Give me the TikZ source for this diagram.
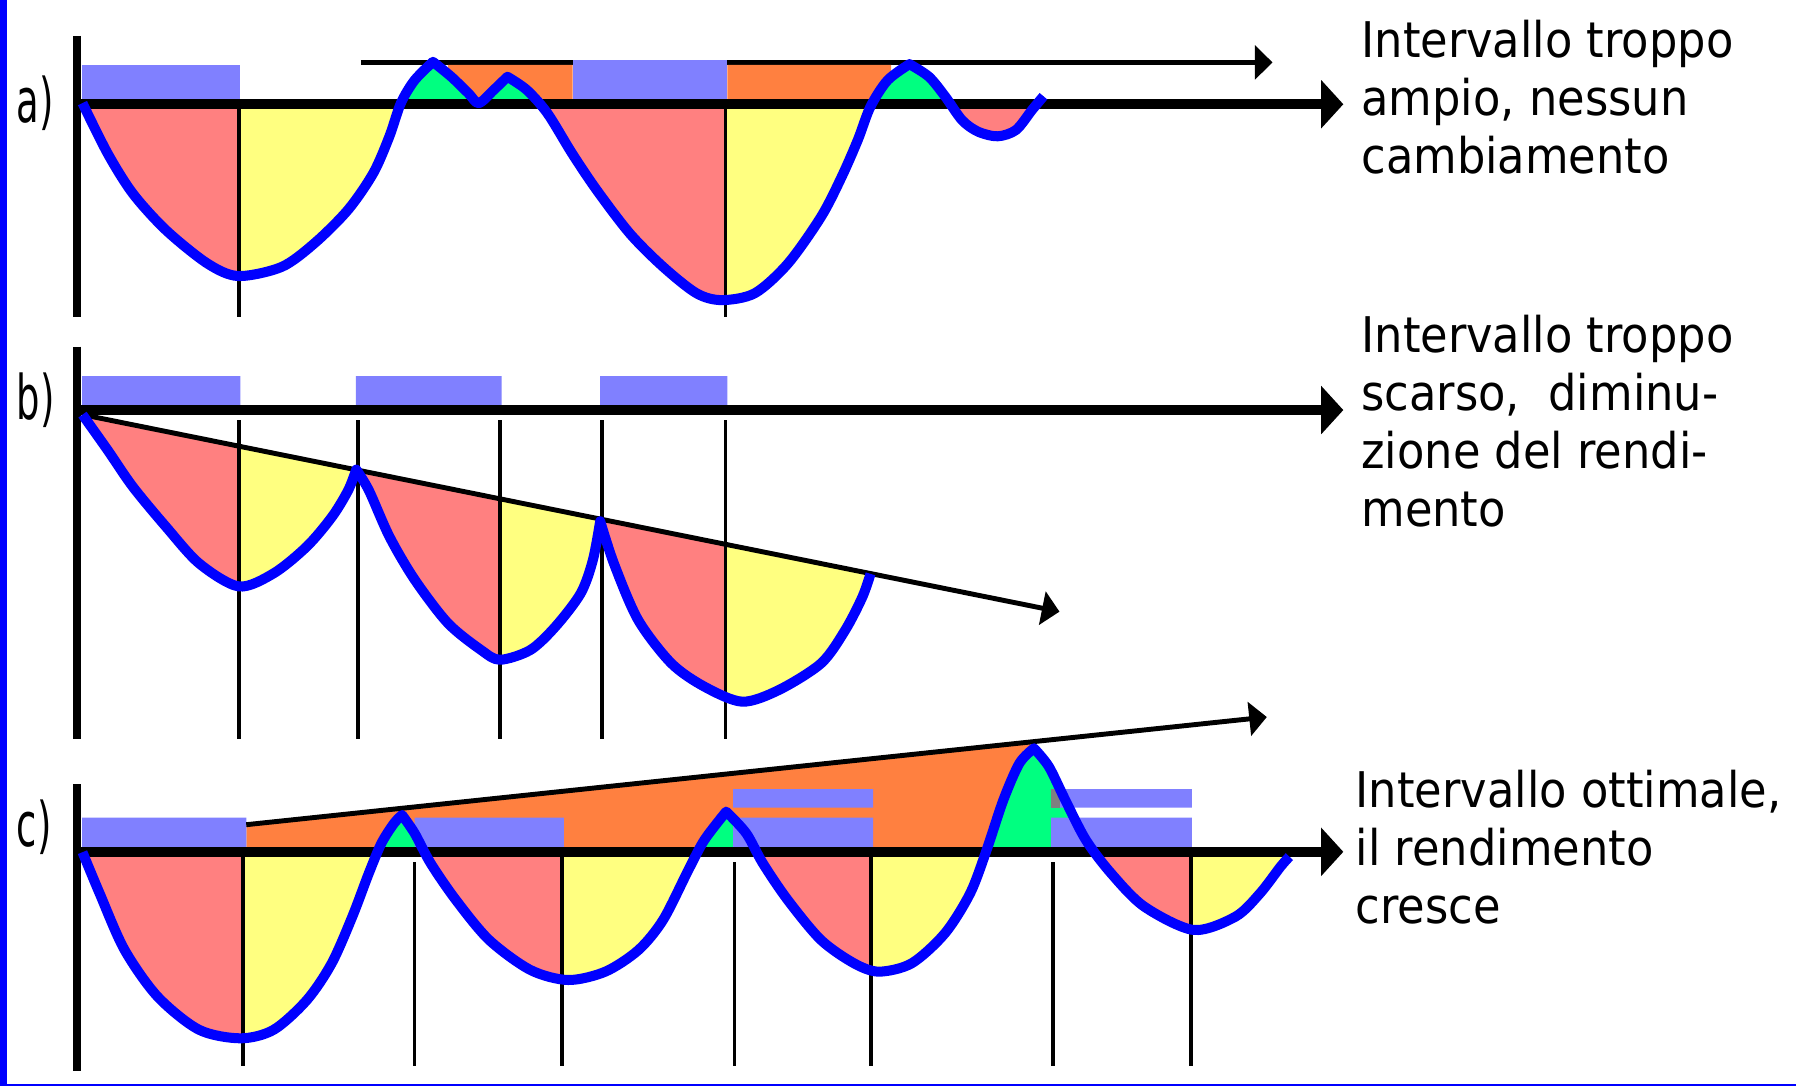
\documentclass[tikz,border=0pt]{standalone}
\usepackage{fontspec}
\setmainfont{DejaVu Sans}
\newfontfamily\notefont[FakeStretch=0.91]{DejaVu Sans}
\newfontfamily\tagfont[FakeStretch=0.6]{DejaVu Sans}
\usetikzlibrary{arrows.meta}

\definecolor{barblue}{RGB}{128,128,255}
\definecolor{lossred}{RGB}{255,128,128}
\definecolor{gainyellow}{RGB}{255,255,128}
\definecolor{gainorange}{RGB}{255,128,64}
\definecolor{peakgreen}{RGB}{0,255,128}

\begin{document}
\begin{tikzpicture}[x=0.011454cm,y=-0.011454cm,line join=round,
  mainaxis/.style={line width=2.85pt,-{Triangle[length=6.3pt,width=13.4pt]}},
  vaxis/.style={line width=2.4pt},
  tickline/.style={line width=1pt},
  trendline/.style={line width=1.4pt,-{Triangle[length=5pt,width=9.5pt]}},
  yieldcurve/.style={draw=blue,line width=2.85pt},
  casetag/.style={font=\tagfont\fontsize{17.5}{20}\selectfont,anchor=base west,inner sep=0pt},
  sidenote/.style={font=\notefont\fontsize{14}{16.5}\selectfont,align=left,anchor=north west,inner sep=0pt}]
\useasboundingbox (0,0) rectangle (1568,948);
\fill[blue] (0,0) rectangle (5.8,948);
\fill[blue] (0,946.3) rectangle (1568,948);

% ---------- a) interval too wide
\def\ya{91}   % axis level
\def\curvea{plot[smooth] coordinates {(72,90) (94,134) (116,169) (145,201) (181,230) (208,241) (246,233) (275,212) (304,183) (326,151) (340,119) (350,90) (362,70) (378,54)}
  -- plot[smooth] coordinates {(378,54) (394,67) (409,81.5) (418,90) (431,78.6) (443,67)}
  -- plot[smooth] coordinates {(443,67) (460,78.6) (478,99) (499.5,134) (521,166) (550,204) (579,233) (608,256) (630,262) (659,256) (688,230) (717,189) (735,154) (749,122) (760,93) (775,70) (794,56)}
  -- plot[smooth] coordinates {(794,56) (811,67) (825,84) (840,105) (854,115) (871,119) (887,113.5) (901,96) (911,84)}}
\fill[barblue] (71.6,56.7) rectangle (209.8,86.4);
\draw[trendline] (315,54.5) -- (1111,54.5);
\fill[barblue] (500,52.4) rectangle (635,86.4);
\fill[gainorange] (391,56.7) rectangle (500,86.4) (635,56.7) rectangle (778,86.4);
\begin{scope}
  \clip (0,0) rectangle (1250,\ya);
  \fill[peakgreen] \curvea -- (911,\ya) -- (72,\ya) -- cycle;
\end{scope}
\begin{scope}
  \clip (0,\ya) rectangle (1250,300);
  \fill[lossred] \curvea -- (911,\ya) -- (72,\ya) -- cycle;
  \clip (208.5,\ya) rectangle (400,300) (633.4,\ya) rectangle (790,300);
  \fill[gainyellow] \curvea -- (911,\ya) -- (72,\ya) -- cycle;
\end{scope}
\foreach \x in {208.5,633.4}
  \draw[tickline] (\x,\ya) -- (\x,277);
\draw[vaxis] (67.3,31.4) -- (67.3,277);
\draw[mainaxis] (67.3,\ya) -- (1172.8,\ya);
\draw[yieldcurve] \curvea;
\node[casetag] (taga) at (14,107) {a)};
\node[sidenote] (notea) at (1188,17.2) {Intervallo troppo\\ampio, nessun\\cambiamento};

% ---------- b) interval too short
\def\yb{358}
\def\curveb{plot[smooth] coordinates {(72,362) (94,393) (116,425) (145,460) (174,492) (208.5,512) (239,500.5) (268,477) (290,451) (304,428) (311,410)}
  -- plot[smooth] coordinates {(311,410) (322,428) (340,468.5) (362,506) (391,544) (420,567.5) (436.5,576) (463,567.5) (485,547) (507,518) (517.6,489) (524,455)}
  -- plot[smooth] coordinates {(524,455) (536,492) (557,541) (586,579) (615,599.5) (648,612.6) (680,602.4) (717,579) (738,550) (753,521) (760,501)}}
\fill[barblue] (71.6,328.3) rectangle (209.8,353.9) (310.6,328.3) rectangle (438,353.9) (524,328.3) rectangle (635,353.9);
\fill[lossred] \curveb -- cycle;
\begin{scope}
  \clip (208.5,300) rectangle (311,700) (436.6,300) rectangle (524,700) (633.4,300) rectangle (800,700);
  \fill[gainyellow] \curveb -- cycle;
\end{scope}
\foreach \x in {208.5,312.7,436.6,525.6,633.4}
  \draw[tickline] (\x,366.7) -- (\x,645);
\draw[vaxis] (67.3,302.7) -- (67.3,645);
\draw[mainaxis] (67.3,\yb) -- (1172.8,\yb);
\draw[trendline] (72,362) -- (925,534);
\draw[yieldcurve] \curveb;
\node[casetag] (tagb) at (14,366) {b)};
\node[sidenote] (noteb) at (1188,274.4) {Intervallo troppo\\scarso,~ diminu-\\zione del rendi-\\mento};

% ---------- c) optimal interval
\def\yc{743.7}
\def\curvec{plot[smooth] coordinates {(72,744) (87,780) (108.6,829) (137.5,870) (173.7,899) (210,906.5) (239,899) (268,873) (289.6,841) (307.7,800) (322,762.4) (333,736.2) (344,718.8) (351,711.5)}
  -- plot[smooth] coordinates {(351,711.5) (362,727.5) (376,753.7) (398,785.7) (427,820.6) (463,846.8) (496,855.6) (528.5,848.3) (557.4,829.4) (579,803) (601,759.5) (615,733.3) (634,708.6)}
  -- plot[smooth] coordinates {(634,708.6) (651.5,727.5) (666,753.7) (687.7,785.7) (716.7,820.6) (745.6,841) (767.4,848.3) (796,841) (825,814.8) (847,779.9) (861.4,742) (876,698.4) (890,666.4) (902.7,653.3)}
  -- plot[smooth] coordinates {(902.7,653.3) (915.7,669.3) (930,698.4) (948,733.3) (970,762.4) (999,791.5) (1042,811.9) (1078.6,800.3) (1100,780) (1118,756.6) (1125.7,747.9)}}
\fill[gainorange] (215,\yc) -- (215,720) -- (903,647.4) -- (903,\yc) -- cycle;
\begin{scope}
  \clip (0,600) rectangle (1250,\yc);
  \fill[peakgreen] \curvec -- (1125.7,\yc) -- (72,\yc) -- cycle;
\end{scope}
\fill[barblue] (71.6,713.9) rectangle (215,739.5) (362,713.9) rectangle (492.3,739.5)
  (640,713.9) rectangle (762.3,739.5) (917.6,713.9) rectangle (1040.5,739.5)
  (640,688.9) rectangle (762.3,705.2) (917.6,688.9) rectangle (1040.5,705.2);
\fill[gray] (917.6,688.9) rectangle (925.4,705.2);
\begin{scope}
  \clip (0,\yc) rectangle (1250,950);
  \fill[lossred] \curvec -- (1125.7,\yc) -- (72,\yc) -- cycle;
  \clip (212,\yc) rectangle (351,950) (490.8,\yc) rectangle (634,950) (760.2,\yc) rectangle (903,950) (1039.6,\yc) rectangle (1140,950);
  \fill[gainyellow] \curvec -- (1125.7,\yc) -- (72,\yc) -- cycle;
\end{scope}
\foreach \x in {212,490.8,760.2,1039.6}
  \draw[tickline] (\x,\yc) -- (\x,930.4);
\foreach \x in {362,641.4,919.3}
  \draw[tickline] (\x,752.8) -- (\x,930.4);
\draw[vaxis] (67.3,684.7) -- (67.3,934.8);
\draw[mainaxis] (67.3,\yc) -- (1172.8,\yc);
\draw[trendline] (215,720) -- (1106,626);
\draw[yieldcurve] \curvec;
\node[casetag] (tagc) at (14,739) {c)};
\node[sidenote] (notec) at (1183,671.7) {Intervallo ottimale,\\il rendimento\\cresce};
\end{tikzpicture}
\end{document}
